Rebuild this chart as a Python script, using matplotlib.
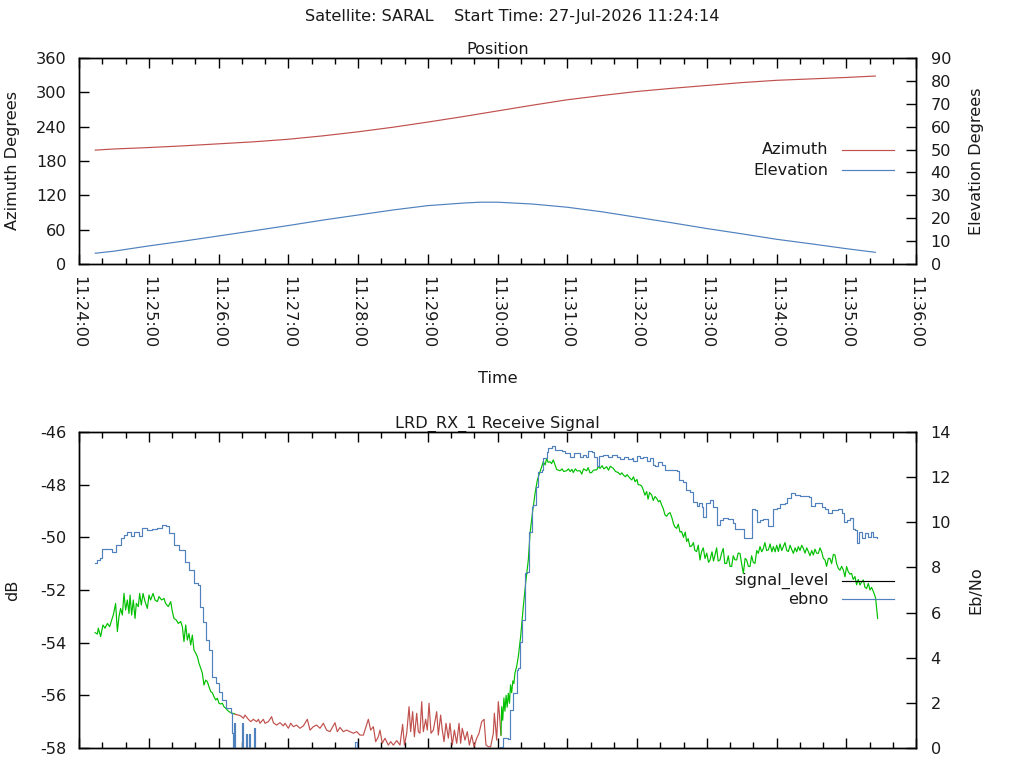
import matplotlib
matplotlib.use("Agg")
import matplotlib.pyplot as plt
from matplotlib.ticker import MultipleLocator, FuncFormatter

plt.rcParams['font.family'] = ['DejaVu Sans']
plt.rcParams['axes.unicode_minus'] = False
FS = 11.6

# ---------------- data (time = seconds after 11:24:00) ----------------
pos_t = [14, 30, 60, 90, 120, 150, 180, 210, 240, 270, 300, 330, 345, 360, 390,
         420, 450, 480, 510, 540, 570, 600, 630, 660, 685]
azimuth = [199, 201, 203.5, 206.5, 210, 213.5, 218, 224, 231, 239, 248, 257.5, 262.5, 267.5, 277.5,
           287, 294.5, 301.5, 307, 312, 317, 321, 323.5, 326, 328.5]
elevation = [4.7, 5.6, 7.9, 10.0, 12.25, 14.5, 16.8, 19.2, 21.4, 23.6, 25.5, 26.6, 27.0, 27.0, 26.2,
             24.8, 22.8, 20.4, 18.0, 15.5, 13.2, 10.8, 8.8, 6.7, 5.1]

# signal level (dB) while locked (first pass)
sig1_t = [13.8, 15.8, 16.6, 18.6, 20.6, 22.4, 24.4, 26.4, 28.1, 29.5, 31.5, 33.0, 34.4, 35.8, 37.3,
          38.7, 40.1, 41.6, 43.0, 43.9, 45.3, 46.7, 48.2, 49.3, 51.0, 52.2, 53.6, 55.1, 56.8, 58.8,
          60.2, 61.6, 63.7, 65.4, 67.4, 68.8, 71.1, 73.1, 74.5, 76.8, 78.9, 80.3, 81.7, 83.7, 85.4,
          87.5, 88.9, 90.3, 91.8, 93.2, 94.6, 96.1, 97.5, 98.9, 100.4, 101.8, 103.2, 104.7, 106.1,
          107.5, 109.0, 110.4, 111.8, 113.3, 114.7, 116.1, 117.6, 119.0, 120.4, 121.9, 123.3, 124.7,
          126.2, 127.6, 129.0, 131.9, 134.2]
sig1_db = [-53.62, -53.67, -53.45, -53.77, -53.33, -53.45, -53.27, -53.39, -53.14, -52.95, -52.51,
           -53.58, -53.01, -52.70, -52.95, -52.13, -52.76, -52.38, -52.89, -52.19, -52.95, -52.38,
           -53.08, -52.51, -52.63, -52.13, -52.57, -52.13, -52.44, -52.70, -52.19, -52.38, -52.13,
           -52.38, -52.44, -52.25, -52.38, -52.32, -52.51, -52.63, -52.44, -52.82, -53.08, -53.14,
           -53.27, -53.20, -53.39, -53.96, -53.33, -53.90, -53.65, -54.09, -53.71, -54.28, -54.40,
           -54.53, -54.78, -54.97, -55.16, -55.61, -55.42, -55.48, -55.67, -55.86, -55.90, -56.05,
           -56.18, -56.11, -56.30, -56.33, -56.30, -56.43, -56.49, -56.56, -56.62, -56.68, -56.71]

# signal level (dB) while unlocked
sig2_t = [134.2, 137.1, 139.1, 141.4, 142.8, 145.7, 147.7, 150.0, 152.8, 154.3, 155.7, 158.6, 160.0,
          162.9, 165.7, 167.2, 170.0, 172.9, 175.8, 177.2, 180.1, 182.1, 184.4, 187.2, 190.1, 193.0,
          196.4, 198.7, 201.6, 204.4, 207.3, 210.2, 213.0, 215.9, 220.2, 222.2, 224.5, 227.4, 230.2,
          233.1, 236.0, 238.9, 241.7, 244.6, 248.9, 250.9, 253.2, 255.2, 257.5, 258.9, 260.9, 263.2,
          266.1, 268.1, 270.4, 273.3, 276.1, 278.4, 279.9, 281.9, 283.9, 285.3, 287.0, 288.5, 290.5,
          291.9, 293.3, 294.8, 296.2, 298.2, 299.6, 301.1, 302.8, 304.8, 307.7, 309.1, 311.1, 312.5,
          314.0, 315.7, 317.7, 319.1, 321.1, 322.9, 324.9, 326.9, 328.3, 329.7, 332.0, 334.0, 335.8,
          337.8, 339.8, 342.1, 344.1, 346.4, 348.4, 350.1, 352.1, 354.1, 356.4, 357.3, 359.3, 360.7,
          361.6, 363.0]
sig2_db = [-56.72, -56.75, -56.78, -56.87, -56.75, -56.91, -57.00, -56.91, -57.00, -56.91, -57.06,
           -56.91, -57.06, -57.00, -56.81, -57.04, -57.13, -57.04, -57.16, -57.06, -57.25, -57.06,
           -57.19, -57.13, -57.25, -57.16, -56.91, -57.32, -57.19, -57.13, -57.25, -57.06, -57.32,
           -57.38, -57.04, -57.38, -57.22, -57.38, -57.32, -57.38, -57.44, -57.38, -57.51, -57.51,
           -56.91, -57.32, -57.19, -57.76, -57.57, -57.32, -57.82, -57.63, -57.89, -57.76, -57.89,
           -57.72, -57.89, -57.10, -57.89, -57.44, -56.43, -57.38, -56.62, -57.57, -56.68, -57.38,
           -57.44, -56.24, -57.38, -56.91, -57.32, -56.30, -57.44, -57.32, -56.62, -57.51, -56.75,
           -57.32, -57.76, -57.06, -57.63, -57.06, -57.89, -57.32, -57.82, -57.06, -57.82, -57.25,
           -57.70, -57.38, -57.89, -57.51, -57.95, -57.63, -57.44, -57.00, -56.91, -57.89, -57.95,
           -57.95, -57.44, -56.68, -57.70, -56.24, -56.68, -57.51]

# signal level (dB) after re-lock
sig3_t = [363.0, 363.6, 364.5, 365.5, 366.4, 367.4, 368.3, 369.3, 370.3, 371.2, 372.2, 373.2, 374.1,
          375.0, 376.5, 377.9, 379.9, 382.2, 384.5, 386.5, 388.0, 390.0, 392.3, 394.3, 396.6, 399.4,
          401.0, 402.3, 403.5, 405.2, 406.5, 408.0, 409.5, 410.9, 412.3, 413.8, 415.5, 417.0, 419.5,
          421.0, 422.5, 424.0, 425.2, 427.0, 428.5, 431.0, 432.5, 434.0, 436.7, 438.0, 439.5, 441.0,
          442.5, 444.0, 445.3, 446.7, 448.2, 450.0, 451.5, 453.9, 455.5, 457.0, 459.6, 461.5, 463.9,
          465.5, 467.0, 468.2, 470.0, 471.5, 474.0, 475.5, 477.0, 478.3, 480.0, 481.0, 482.6, 484.0,
          485.4, 486.8, 488.3, 489.5, 490.8, 492.6, 494.0, 495.5, 496.9, 498.5, 499.8, 501.2, 502.5,
          504.1, 505.5, 507.0, 508.4, 510.0, 511.3, 512.5, 514.1, 515.5, 517.0, 518.4, 520.0, 521.5,
          522.7, 524.0, 525.5, 527.0, 528.5, 529.8, 531.3, 532.7, 534.2, 535.5, 537.0, 538.5, 540.0,
          541.5, 542.8, 544.5, 545.8, 547.1, 548.5, 549.8, 551.4, 552.8, 554.2, 555.5, 557.1, 558.5,
          560.0, 561.4, 562.8, 564.2, 565.7, 567.0, 568.6, 570.0, 571.5, 573.0, 574.3, 575.8, 577.2,
          578.6, 580.0, 581.5, 583.0, 584.4, 585.8, 587.3, 588.7, 590.0, 591.5, 593.0, 594.5, 596.0,
          597.3, 598.8, 600.2, 601.6, 603.0, 604.5, 605.9, 607.3, 608.8, 610.2, 611.7, 613.0, 614.5,
          616.0, 617.4, 618.8, 620.2, 621.7, 623.1, 624.5, 626.0, 627.4, 628.8, 630.3, 631.7, 633.1,
          634.5, 636.0, 637.4, 638.8, 640.3, 641.7, 643.1, 644.6, 646.0, 647.4, 648.9, 650.3, 651.7,
          653.2, 654.6, 656.0, 657.5, 658.9, 660.3, 661.7, 663.2, 664.6, 666.0, 667.5, 668.9, 670.3,
          671.8, 673.2, 674.7, 676.1, 677.5, 679.0, 680.4, 681.8, 683.3, 684.5, 685.3, 687.0]
sig3_db = [-57.51, -56.43, -56.95, -56.10, -56.60, -56.00, -56.45, -55.92, -56.30, -55.60, -55.90,
           -55.45, -55.55, -55.16, -54.90, -54.53, -53.77, -52.63, -51.62, -50.86, -49.85, -49.09,
           -48.33, -47.82, -47.51, -47.13, -47.25, -47.00, -47.15, -47.13, -47.20, -47.06, -47.25,
           -47.42, -47.45, -47.47, -47.40, -47.50, -47.47, -47.40, -47.50, -47.42, -47.54, -47.40,
           -47.48, -47.47, -47.60, -47.40, -47.47, -47.35, -47.55, -47.54, -47.45, -47.44, -47.44,
           -47.32, -47.38, -47.28, -47.40, -47.32, -47.45, -47.30, -47.38, -47.50, -47.54, -47.62,
           -47.55, -47.63, -47.70, -47.62, -47.76, -47.82, -47.70, -47.89, -47.80, -48.00, -48.01,
           -48.05, -48.20, -48.40, -48.26, -48.55, -48.30, -48.39, -48.60, -48.45, -48.52, -48.65,
           -48.60, -48.77, -48.90, -49.15, -49.20, -49.10, -49.06, -49.25, -49.47, -49.60, -49.66,
           -49.50, -49.80, -49.78, -50.00, -49.80, -50.16, -50.05, -50.35, -50.33, -50.20, -50.50,
           -50.54, -50.30, -50.86, -50.55, -50.40, -50.80, -50.60, -50.95, -50.86, -50.55, -50.90,
           -50.67, -50.40, -50.90, -50.86, -50.60, -50.42, -50.99, -50.99, -50.70, -51.10, -51.11,
           -50.70, -50.85, -50.86, -50.60, -50.61, -51.00, -51.37, -50.80, -50.86, -51.10, -51.11,
           -50.70, -50.95, -50.99, -50.50, -50.61, -50.35, -50.55, -50.42, -50.20, -50.50, -50.48,
           -50.25, -50.55, -50.35, -50.55, -50.30, -50.54, -50.25, -50.50, -50.35, -50.20, -50.50,
           -50.54, -50.30, -50.45, -50.61, -50.40, -50.55, -50.35, -50.50, -50.30, -50.42, -50.60,
           -50.40, -50.54, -50.70, -50.50, -50.67, -50.45, -50.60, -50.61, -50.40, -50.54, -50.80,
           -50.86, -51.10, -50.80, -50.80, -51.00, -50.65, -50.67, -51.00, -51.18, -51.25, -51.10,
           -51.24, -51.50, -51.11, -51.30, -51.40, -51.37, -51.60, -51.49, -51.80, -51.60, -51.81,
           -51.70, -51.62, -51.90, -51.94, -51.75, -52.00, -51.90, -52.06, -52.20, -52.32, -53.08]

# Eb/No
ebno_t = [13.8, 15.8, 17.8, 19.5, 20.1, 27.2, 28.7, 31.5, 32.1, 35.8, 38.7, 41.6, 44.4, 47.3, 51.6,
          54.5, 58.8, 63.1, 67.4, 71.7, 75.1, 77.4, 81.7, 86.0, 91.2, 94.6, 98.9, 102.6, 103.8, 106.7,
          109.0, 111.8, 114.7, 118.1, 120.4, 123.3, 126.2, 130.5, 131.9, 132.5, 133.3, 134.0, 139.3,
          140.0, 140.7, 143.3, 143.9, 144.5, 146.0, 146.6, 147.2, 150.0, 150.6, 151.2, 237.0, 237.4,
          238.5, 239.0, 361.5, 362.1, 364.4, 369.3, 370.7, 373.6, 376.5, 377.9, 379.4, 380.8, 383.6,
          385.7, 387.4, 389.4, 390.8, 393.1, 395.1, 398.0, 399.4, 402.3, 403.7, 406.6, 409.5, 412.3,
          415.2, 418.1, 420.9, 422.4, 424.7, 425.8, 428.1, 431.0, 433.9, 436.2, 438.2, 441.0, 443.0,
          445.3, 447.6, 451.1, 455.4, 458.2, 462.5, 465.4, 468.8, 472.6, 475.4, 476.8, 479.7, 482.6,
          485.4, 488.3, 491.2, 493.5, 495.5, 498.4, 501.2, 504.1, 508.4, 514.1, 516.1, 519.9, 522.2,
          525.6, 528.5, 531.3, 533.3, 535.6, 537.1, 539.4, 542.8, 545.7, 548.6, 551.4, 554.3, 558.6,
          562.9, 564.3, 568.6, 572.0, 575.8, 578.6, 581.5, 583.0, 585.8, 588.7, 591.6, 593.0, 595.0,
          596.7, 600.2, 603.0, 607.3, 609.3, 612.2, 615.9, 620.2, 628.2, 629.4, 633.1, 636.0, 638.8,
          641.7, 644.6, 647.5, 653.2, 656.0, 658.0, 660.9, 663.2, 665.5, 667.5, 669.5, 671.2, 673.2,
          676.1, 679.0, 681.0, 682.7, 686.7]
ebno = [8.18, 8.33, 8.40, 8.40, 8.80, 8.80, 8.67, 8.67, 9.00, 9.29, 9.44, 9.58, 9.39, 9.58, 9.39,
        9.76, 9.66, 9.69, 9.76, 9.88, 9.83, 9.54, 9.00, 8.77, 8.25, 7.89, 7.30, 7.22, 6.26, 5.60,
        4.79, 4.34, 3.16, 2.88, 2.49, 2.12, 1.76, 1.55, 0.66, -1.0, 1.10, -1.0, -1.0,
        1.10, -1.0, -1.0, 0.60, -1.0, -1.0, 0.60, -1.0, -1.0, 0.90, -1.0, -1.0, 0.28,
        0.28, -1.0, -1.0, 0.06, 0.43, 0.38, 1.68, 2.42, 3.46, 3.53, 4.71, 5.67, 7.74,
        7.81, 9.59, 10.69, 10.77, 11.58, 12.24, 12.32, 12.83, 13.13, 13.28, 13.38, 13.20, 13.20,
        13.17, 13.06, 13.06, 12.91, 12.91, 13.08, 13.06, 12.91, 12.98, 12.91, 13.17, 13.13, 12.91,
        12.49, 12.94, 12.98, 12.91, 12.98, 12.91, 12.79, 12.88, 12.79, 12.84, 12.73, 12.94, 12.84,
        12.88, 12.73, 12.84, 12.54, 12.49, 12.69, 12.54, 12.32, 12.32, 12.29, 11.87, 11.80, 11.43,
        11.36, 10.91, 10.72, 10.87, 10.66, 10.25, 10.87, 10.99, 10.66, 9.88, 10.10, 10.18, 10.13,
        9.96, 9.69, 9.69, 9.29, 9.29, 10.57, 10.55, 10.03, 10.10, 10.13, 10.16, 9.84, 9.84,
        10.57, 10.62, 10.81, 10.84, 11.06, 11.28, 11.21, 11.17, 11.11, 10.72, 10.84, 10.84, 10.66,
        10.57, 10.43, 10.55, 10.57, 10.43, 10.03, 10.10, 10.18, 9.69, 9.66, 9.07, 9.59, 9.29,
        9.51, 9.36, 9.59, 9.34, 9.29]

x_major = [0, 60, 120, 180, 240, 300, 360, 420, 480, 540, 600, 660, 720]

# ---------------- styling ----------------
RED = '#c0504d'
BLUE = '#4f81bd'
GREEN = '#00c000'
TXT = '#1a1a1a'
LW = 0.85


def hms(v, pos=None):
    s = int(round(v)) + 11 * 3600 + 24 * 60
    return f"{s // 3600:02d}:{(s % 3600) // 60:02d}:{s % 60:02d}"


def style_x(ax, labels=True):
    ax.set_xlim(x_major[0], x_major[-1])
    ax.set_xticks(x_major)
    ax.xaxis.set_minor_locator(MultipleLocator(20))
    ax.xaxis.set_major_formatter(FuncFormatter(hms))
    ax.tick_params(axis='x', which='both', direction='in', top=True, bottom=True,
                   labelbottom=labels, labelsize=FS, pad=9, labelrotation=270, labelcolor=TXT)
    ax.tick_params(axis='x', which='major', length=7, width=1)
    ax.tick_params(axis='x', which='minor', length=4, width=1)
    for lab in ax.get_xticklabels():
        lab.set_va('top')
        lab.set_ha('center')


def style_y(ax, side):
    if side == 'left':
        ax.tick_params(axis='y', direction='in', left=True, right=False, labelleft=True,
                       labelright=False, length=7, width=1, labelsize=FS, pad=9, labelcolor=TXT)
    else:
        ax.tick_params(axis='y', direction='in', left=False, right=True, labelleft=False,
                       labelright=True, length=7, width=1, labelsize=FS, pad=10.5, labelcolor=TXT)


def manual_key(ax, entries, y0, dy):
    for i, (label, color) in enumerate(entries):
        y = y0 - i * dy
        ax.text(0.8955, y, label, transform=ax.transAxes, ha='right', va='center', fontsize=FS,
                color=TXT)
        ax.plot([0.9116, 0.9737], [y, y], transform=ax.transAxes, color=color, lw=LW,
                clip_on=False)


fig = plt.figure(figsize=(10.24, 7.68), dpi=100)
fig.text(0.5, 1 - 17 / 768, "Satellite: SARAL    Start Time: 27-Jul-2026 11:24:14",
         ha='center', va='center', fontsize=FS, color=TXT)

# ---------------- top: position ----------------
ax1 = fig.add_axes([79 / 1024, 1 - 264 / 768, 837 / 1024, 206 / 768])
ax1b = ax1.twinx()
ax1.plot(pos_t, azimuth, color=RED, lw=LW)
ax1b.plot(pos_t, elevation, color=BLUE, lw=LW)
ax1.set_ylim(0, 360)
ax1.set_yticks([0, 60, 120, 180, 240, 300, 360])
ax1b.set_ylim(0, 90)
ax1b.set_yticks(list(range(0, 91, 10)))
style_x(ax1, True)
style_y(ax1, 'left')
style_y(ax1b, 'right')
ax1.set_title("Position", fontsize=FS, pad=3, color=TXT)
ax1.set_ylabel("Azimuth Degrees", fontsize=FS, va='center', color=TXT)
ax1.yaxis.set_label_coords(-0.0789, 0.5)
ax1b.set_ylabel("Elevation Degrees", fontsize=FS, va='center', rotation=90, color=TXT)
ax1b.yaxis.set_label_coords(1.0717, 0.5)
ax1.set_xlabel("Time", fontsize=FS, va='center', color=TXT)
ax1.xaxis.set_label_coords(0.5, -0.558)
manual_key(ax1b, [("Azimuth", RED), ("Elevation", BLUE)], 0.5534, 0.0971)

# ---------------- bottom: receive signal ----------------
ax2 = fig.add_axes([79 / 1024, 1 - 748 / 768, 837 / 1024, 316 / 768])
ax2b = ax2.twinx()
ax2.plot(sig1_t, sig1_db, color=GREEN, lw=LW)
ax2.plot(sig2_t, sig2_db, color=RED, lw=LW)
ax2.plot(sig3_t, sig3_db, color=GREEN, lw=LW)
ax2b.plot(ebno_t, ebno, color=BLUE, lw=LW, drawstyle='steps-post')
ax2.set_ylim(-58, -46)
ax2.set_yticks(list(range(-58, -45, 2)))
ax2b.set_ylim(0, 14)
ax2b.set_yticks(list(range(0, 15, 2)))
style_x(ax2, False)
ax2b.tick_params(axis='x', which='both', labelbottom=False)
style_y(ax2, 'left')
style_y(ax2b, 'right')
ax2.set_title("LRD_RX_1 Receive Signal", fontsize=FS, pad=3, color=TXT)
ax2.set_ylabel("dB", fontsize=FS, va='center', color=TXT)
ax2.yaxis.set_label_coords(-0.0789, 0.5)
ax2b.set_ylabel("Eb/No", fontsize=FS, va='center', rotation=90, color=TXT)
ax2b.yaxis.set_label_coords(1.0717, 0.5)
manual_key(ax2b, [("signal_level", 'black'), ("ebno", BLUE)], 0.5294, 0.0588)

for a in (ax1, ax1b, ax2, ax2b):
    for sp in a.spines.values():
        sp.set_linewidth(1)
        sp.set_color('black')

fig.savefig("out.png", dpi=100)
